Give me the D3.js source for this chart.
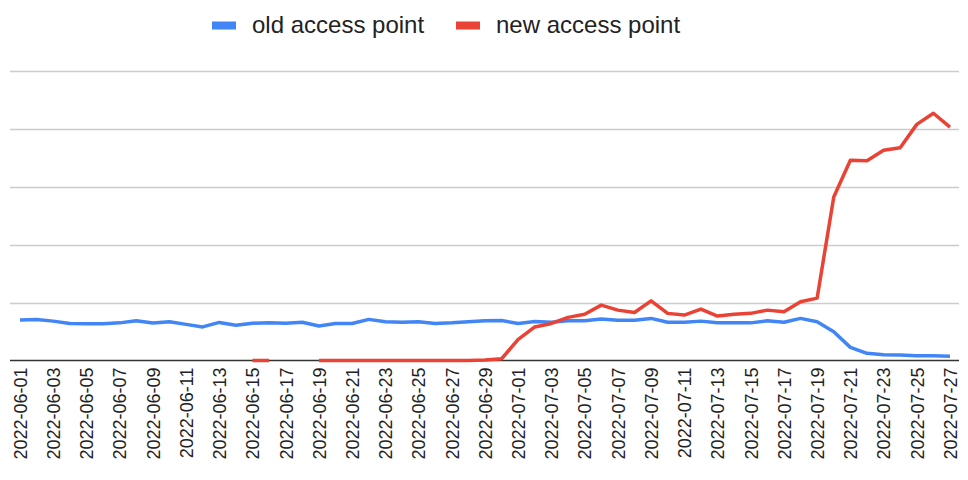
<!DOCTYPE html>
<html><head><meta charset="utf-8">
<script src="https://cdn.jsdelivr.net/npm/d3@7"></script>
<style>body{margin:0;background:#fff;}svg{display:block;}</style>
</head><body>
<svg id="c" width="968" height="480"></svg>
<script>
const startDate = "2022-06-01";
const dayCount = 57;
const oldAccess = [70,71,68,64,63.5,63.5,65,68.6,64.6,67,62.4,58,65.8,61,64.5,65,64.5,66,59.5,
  64,64,71,67,66,67,64,65,67,68.6,69,64,67.5,66,68.6,68.6,71.5,69.7,69.7,72.7,
  66,66,68,65,65,65,68.6,66,72.7,67,49.7,22.7,12.4,10,9.5,8.3,8.3,7.2];
const newAccess = [null,null,null,null,null,null,null,null,null,null,null,null,null,null,0,0,null,null,0,
  0,0,0,0,0,0,0,0,0,1,3,36.5,58,64,74.5,80,95.7,87,83,103,
  81.4,78.4,88.8,76.7,80,81.4,87,84,101.4,107.8,282.4,345.7,345,363,367.6,407.8,427,403];
const yTicks = [0,100,200,300,400,500];
const seriesNames = ["old access point","new access point"];
const colors = ["#4285F4","#EA4335"];

const fmt = d3.timeFormat("%Y-%m-%d");
const t0 = d3.timeParse("%Y-%m-%d")(startDate);
const dates = d3.range(dayCount).map(i => fmt(d3.timeDay.offset(t0, i)));

const svg = d3.select("#c");
const x = d3.scalePoint().domain(dates).range([20, 950]);
const y = d3.scaleLinear().domain([0, 500]).range([360.5, 71]);

// gridlines
svg.append("g").selectAll("line").data(yTicks.slice(1)).join("line")
  .attr("x1", 10).attr("x2", 959)
  .attr("y1", d => Math.round(y(d)) + 0.5).attr("y2", d => Math.round(y(d)) + 0.5)
  .attr("stroke", "#cccccc").attr("stroke-width", 1.5);

// baseline
svg.append("line").attr("x1", 10).attr("x2", 959)
  .attr("y1", y(0)).attr("y2", y(0)).attr("stroke", "#333").attr("stroke-width", 1.5);

// lines
const series = [oldAccess, newAccess];
const line = d3.line().defined(d => d[1] != null)
  .x(d => x(d[0])).y(d => y(d[1]));
series.forEach((s, k) => {
  svg.append("path").datum(dates.map((dd, i) => [dd, s[i]]))
    .attr("d", line).attr("fill", "none")
    .attr("stroke", colors[k]).attr("stroke-width", 3.5)
    .attr("stroke-linejoin", "round");
});

// x axis
const ax = svg.append("g").attr("transform", `translate(0,${y(0)})`)
  .call(d3.axisBottom(x).tickValues(dates.filter((d, i) => i % 2 === 0)).tickSize(0).tickPadding(0));
ax.select(".domain").remove();
ax.selectAll("text")
  .attr("transform", "translate(0,7) rotate(-90)")
  .attr("x", 0).attr("y", 0).attr("dy", "0.35em")
  .style("text-anchor", "end")
  .attr("font-family", "Liberation Sans, Arial, sans-serif")
  .attr("font-size", 18).attr("fill", "#222");

// legend
const legend = [{x: 212, tx: 252}, {x: 456, tx: 496}];
legend.forEach((l, k) => {
  svg.append("rect").attr("x", l.x).attr("y", 21.5).attr("width", 24).attr("height", 8).attr("fill", colors[k]);
  svg.append("text").attr("x", l.tx).attr("y", 33)
    .attr("font-family", "Liberation Sans, Arial, sans-serif").attr("font-size", 24)
    .attr("fill", "#222").text(seriesNames[k]);
});
</script>
</body></html>
